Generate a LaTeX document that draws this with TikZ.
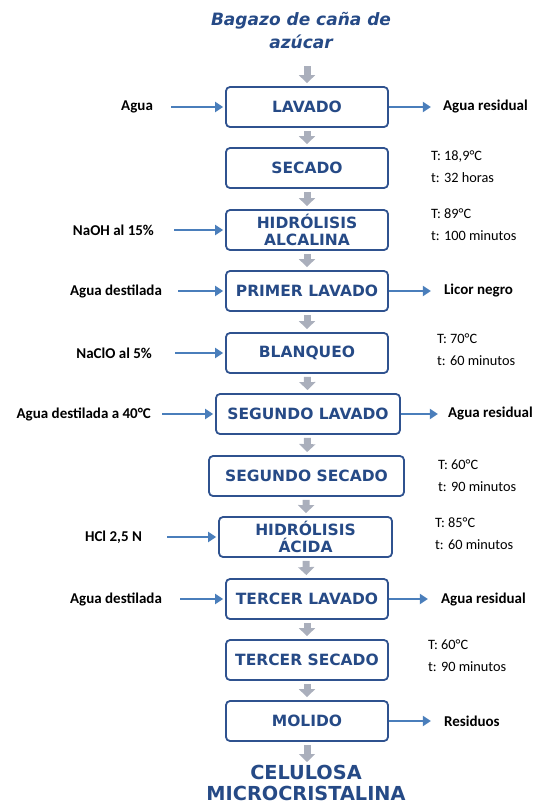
\documentclass[tikz,border=0pt]{standalone}
\usepackage{fontspec}
\setmainfont{Carlito}
\newfontfamily\cajafont{DejaVu Sans}
\usetikzlibrary{positioning,arrows.meta}
\definecolor{azulborde}{RGB}{47,82,143}
\definecolor{azultexto}{RGB}{38,74,134}
\definecolor{azulflecha}{RGB}{74,126,187}
\definecolor{grisflecha}{RGB}{170,175,188}
\tikzset{
  proceso/.style={draw=azulborde, line width=1.8pt, rounded corners=4pt,
    minimum width=162pt, minimum height=40pt, align=center, inner sep=2pt,
    text=azultexto, font=\cajafont\bfseries\fontsize{15.5}{17.5}\selectfont},
  flujo/.style={draw=grisflecha, line width=7pt,
    -{Triangle[width=16pt,length=8pt]}, shorten <=3pt, shorten >=3pt},
  corriente/.style={draw=azulflecha, line width=2.8pt,
    -{Triangle[width=10pt,length=8pt]}, shorten >=2pt},
  lateral/.style={inner sep=0pt, font=\bfseries\fontsize{15}{17}\selectfont},
  condicion/.style={inner sep=0pt, align=left, font=\fontsize{14.3}{22}\selectfont}
}
\begin{document}
\begin{tikzpicture}[x=1pt,y=-1pt]
  \useasboundingbox (0,0) rectangle (537,804);
  % titulo
  \node[align=center, text=azultexto,
    font=\cajafont\bfseries\itshape\fontsize{17}{23}\selectfont] (bagazo) at (301,31) {Bagazo de caña de\\azúcar};
  \coordinate (inicio) at (307,66);
  % etapas
  \node[proceso] (lavado) at (307,107) {LAVADO};
  \node[proceso] (secado) at (307,168) {SECADO};
  \node[proceso] (hidralc) at (307,230) {HIDRÓLISIS\\ALCALINA};
  \node[proceso] (primer) at (307,291) {PRIMER LAVADO};
  \node[proceso] (blanqueo) at (307,353) {BLANQUEO};
  \node[proceso, minimum width=184pt] (seglav) at (308,414) {SEGUNDO LAVADO};
  \node[proceso, minimum width=195pt] (segsec) at (306.5,476) {SEGUNDO SECADO};
  \node[proceso, minimum width=173pt] (hidacida) at (305.5,537) {HIDRÓLISIS\\ÁCIDA};
  \node[proceso] (terlav) at (307,599) {TERCER LAVADO};
  \node[proceso] (tersec) at (307,660) {TERCER SECADO};
  \node[proceso] (molido) at (307,721) {MOLIDO};
  \coordinate (final) at (307,762);
  \node[align=center, text=azultexto,
    font=\cajafont\bfseries\fontsize{19.3}{20.5}\selectfont] (celulosa) at (306,783) {CELULOSA\\MICROCRISTALINA};

  % flechas grises
  \draw[flujo, shorten <=0pt] (inicio) -- (lavado);
  \draw[flujo] (lavado) -- (secado);
  \draw[flujo] (secado) -- (hidralc);
  \draw[flujo] (hidralc) -- (primer);
  \draw[flujo] (primer) -- (blanqueo);
  \draw[flujo] (blanqueo) -- (seglav);
  \draw[flujo] (seglav) -- (segsec);
  \draw[flujo] (segsec) -- (hidacida);
  \draw[flujo] (hidacida) -- (terlav);
  \draw[flujo] (terlav) -- (tersec);
  \draw[flujo] (tersec) -- (molido);
  \draw[flujo, shorten >=0pt] (molido) -- (final);

  % entradas
  \coordinate[left=54pt of lavado] (e1);
  \node[lateral, left=18pt of e1] (agua) {Agua};
  \draw[corriente] (e1) -- (lavado);
  \coordinate[left=51pt of hidralc] (e2);
  \node[lateral, left=20pt of e2] (naoh) {NaOH al 15\%};
  \draw[corriente] (e2) -- (hidralc);
  \coordinate[left=47pt of primer] (e3);
  \node[lateral, left=16pt of e3] (aguadest) {Agua destilada};
  \draw[corriente] (e3) -- (primer);
  \coordinate[left=50pt of blanqueo] (e4);
  \node[lateral, left=23pt of e4] (naclo) {NaClO al 5\%};
  \draw[corriente] (e4) -- (blanqueo);
  \coordinate[left=53pt of seglav] (e5);
  \node[lateral, left=11pt of e5] (aguacuarenta) {Agua destilada a 40°C};
  \draw[corriente] (e5) -- (seglav);
  \coordinate[left=51pt of hidacida] (e6);
  \node[lateral, left=25pt of e6] (hcl) {HCl 2,5 N};
  \draw[corriente] (e6) -- (hidacida);
  \coordinate[left=45pt of terlav] (e7);
  \node[lateral, left=18pt of e7] (aguadestdos) {Agua destilada};
  \draw[corriente] (e7) -- (terlav);

  % salidas
  \coordinate[right=42pt of lavado] (s1);
  \draw[corriente, shorten >=0pt] (lavado) -- (s1);
  \node[lateral, right=12pt of s1] (residual) {Agua residual};
  \coordinate[right=42pt of primer] (s2);
  \draw[corriente, shorten >=0pt] (primer) -- (s2);
  \node[lateral, right=13pt of s2] (licor) {Licor negro};
  \coordinate[right=37pt of seglav] (s3);
  \draw[corriente, shorten >=0pt] (seglav) -- (s3);
  \node[lateral, right=10pt of s3] (residualdos) {Agua residual};
  \coordinate[right=39pt of terlav] (s4);
  \draw[corriente, shorten >=0pt] (terlav) -- (s4);
  \node[lateral, right=13pt of s4] (residualtres) {Agua residual};
  \coordinate[right=42pt of molido] (s5);
  \draw[corriente, shorten >=0pt] (molido) -- (s5);
  \node[lateral, right=13pt of s5] (residuos) {Residuos};

  % condiciones
  \node[condicion, right=42pt of secado, yshift=1pt] (cond1) {T: 18,9°C\\t: 32 horas};
  \node[condicion, right=42pt of hidralc, yshift=5pt] (cond2) {T: 89°C\\t: 100 minutos};
  \node[condicion, right=48pt of blanqueo, yshift=3pt] (cond3) {T: 70°C\\t: 60 minutos};
  \node[condicion, right=33pt of segsec] (cond4) {T: 60°C\\t: 90 minutos};
  \node[condicion, right=42pt of hidacida, yshift=3pt] (cond5) {T: 85°C\\t: 60 minutos};
  \node[condicion, right=39pt of tersec, yshift=4pt] (cond6) {T: 60°C\\t: 90 minutos};
\end{tikzpicture}
\end{document}
